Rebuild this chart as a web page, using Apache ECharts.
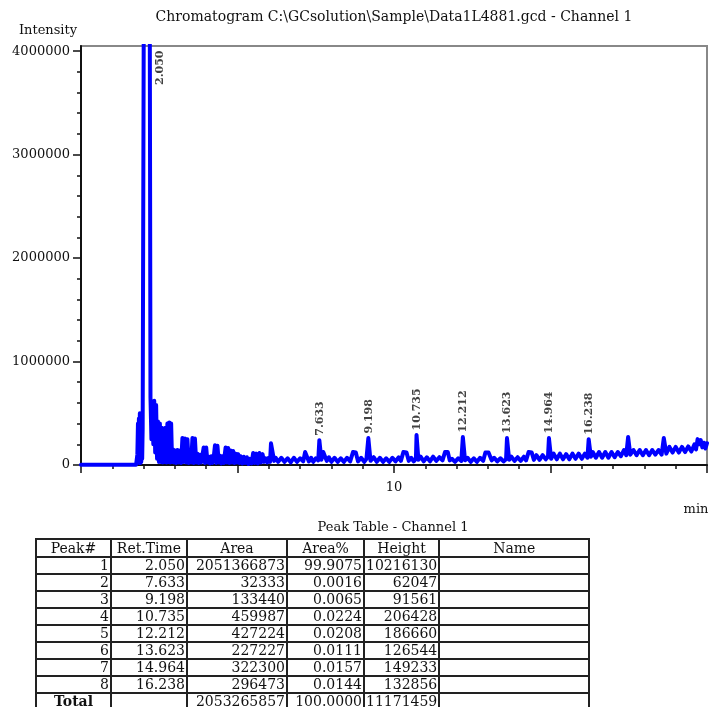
<!DOCTYPE html>
<html>
<head>
<meta charset="utf-8">
<script src="https://cdn.jsdelivr.net/npm/echarts@6/dist/echarts.min.js"></script>
<style>
html,body{margin:0;padding:0;background:#fff;}
#chart{position:absolute;left:0;top:0;width:709px;height:707px;}
#tbl{position:absolute;left:35px;top:538px;border-collapse:collapse;table-layout:fixed;font-family:'DejaVu Serif';font-size:14px;color:#111;border:2px solid #333;}
#tbl td,#tbl th{border:2px solid #222;height:15px;line-height:15px;padding:0 1px;text-align:right;white-space:nowrap;overflow:hidden;font-weight:normal;}
#tbl th{text-align:center;height:16px;line-height:16px;}
#tbl td.tot{text-align:center;font-weight:bold;}
</style>
</head>
<body>
<div id="chart"></div>
<table id="tbl"></table>
<script>
// ---- axis ticks / labels ----
const xLabelValues = [10];
const yTickValues = [0, 1000000, 2000000, 3000000, 4000000];
const yMinorTickValues = [200000, 400000, 600000, 800000, 1200000, 1400000, 1600000, 1800000,
  2200000, 2400000, 2600000, 2800000, 3200000, 3400000, 3600000, 3800000];

// ---- chromatogram trace: [time (min), intensity (thousands)] ----
const traceK = [
  [0, 3], [1.0, 3], [1.76, 3], [1.80, 100], [1.82, 400], [1.835, 30], [1.85, 450], [1.865, 20],
  [1.88, 500], [1.895, 20], [1.91, 490], [1.925, 30], [1.94, 470], [1.955, 60], [1.97, 350],
  [2.02, 6000], [2.05, 10216], [2.19, 5500], [2.22, 650],
  [2.25, 250], [2.28, 600], [2.31, 200], [2.34, 620], [2.37, 120], [2.40, 580], [2.43, 60],
  [2.46, 420], [2.49, 30], [2.52, 400], [2.55, 30], [2.58, 360], [2.61, 25], [2.64, 350],
  [2.67, 30], [2.70, 360], [2.73, 25], [2.76, 400], [2.79, 30], [2.82, 410], [2.85, 25],
  [2.88, 400], [2.91, 30], [2.94, 150], [2.97, 25], [3.00, 140], [3.04, 20], [3.08, 145],
  [3.12, 25], [3.16, 140], [3.20, 20], [3.24, 260], [3.28, 30], [3.32, 255], [3.36, 25],
  [3.40, 250], [3.44, 20], [3.48, 140], [3.52, 25], [3.56, 260], [3.60, 20], [3.64, 255],
  [3.68, 25], [3.72, 110], [3.76, 20], [3.80, 100], [3.84, 25], [3.88, 95], [3.92, 170],
  [3.96, 20], [4.00, 170], [4.04, 25], [4.08, 80], [4.12, 15], [4.16, 85], [4.20, 20],
  [4.24, 75], [4.28, 190], [4.32, 20], [4.36, 185], [4.40, 25], [4.44, 90], [4.48, 15],
  [4.52, 85], [4.56, 20], [4.62, 170], [4.66, 25], [4.70, 165], [4.74, 20], [4.78, 140],
  [4.82, 25], [4.86, 135], [4.90, 20], [4.94, 110], [4.98, 25], [5.02, 105], [5.06, 20],
  [5.10, 85], [5.15, 15], [5.20, 80], [5.25, 20], [5.30, 75], [5.35, 10], [5.40, 60],
  [5.45, 15], [5.50, 115], [5.55, 20], [5.60, 110], [5.65, 15], [5.70, 115], [5.75, 25],
  [5.80, 105], [5.85, 30], [5.90, 65], [5.95, 25], [6.00, 70], [6.04, 30], [6.07, 210],
  [6.13, 210], [6.17, 40], [6.22, 70],
  [6.3, 30], [6.4, 70], [6.5, 30], [6.6, 65], [6.7, 25], [6.8, 70], [6.9, 30], [7.0, 65],
  [7.1, 35], [7.16, 125], [7.22, 120], [7.28, 35], [7.35, 70], [7.42, 30], [7.50, 65],
  [7.58, 45], [7.615, 240], [7.645, 240], [7.68, 50], [7.74, 125], [7.80, 120], [7.85, 40],
  [7.92, 75], [8.0, 30], [8.1, 70], [8.2, 30], [8.3, 65], [8.4, 30], [8.5, 70], [8.6, 35],
  [8.69, 125], [8.78, 120], [8.85, 35], [8.95, 70], [9.05, 30], [9.12, 60], [9.16, 45],
  [9.18, 260], [9.21, 260], [9.25, 40], [9.35, 75], [9.45, 30], [9.55, 70], [9.65, 30],
  [9.75, 65], [9.85, 30], [9.95, 70], [10.05, 35], [10.15, 75], [10.22, 40], [10.30, 125],
  [10.40, 120], [10.47, 40], [10.55, 70], [10.63, 35], [10.70, 60], [10.72, 290], [10.75, 290],
  [10.78, 50], [10.85, 80], [10.95, 35], [11.05, 75], [11.15, 35], [11.25, 80], [11.35, 40],
  [11.45, 75], [11.55, 45], [11.63, 125], [11.72, 125], [11.78, 45], [11.85, 60], [11.95, 30],
  [12.05, 65], [12.15, 40], [12.20, 270], [12.23, 270], [12.27, 45], [12.35, 70], [12.45, 30],
  [12.55, 65], [12.65, 30], [12.75, 70], [12.85, 40], [12.92, 120], [13.02, 120], [13.12, 45],
  [13.2, 70], [13.3, 35], [13.4, 65], [13.5, 35], [13.58, 55], [13.61, 260], [13.64, 260],
  [13.68, 50], [13.75, 80], [13.85, 40], [13.95, 75], [14.05, 40], [14.15, 80], [14.22, 45],
  [14.30, 125], [14.40, 120], [14.47, 50], [14.55, 95], [14.65, 50], [14.75, 95], [14.85, 55],
  [14.92, 80], [14.95, 260], [14.98, 260], [15.02, 60], [15.1, 110], [15.2, 55], [15.3, 110],
  [15.4, 55], [15.5, 105], [15.6, 55], [15.7, 110], [15.8, 60], [15.9, 110], [16.0, 60],
  [16.1, 110], [16.18, 70], [16.22, 250], [16.25, 250], [16.29, 80], [16.35, 125], [16.45, 70],
  [16.55, 125], [16.65, 70], [16.75, 125], [16.85, 70], [16.95, 125], [17.05, 75], [17.15, 125],
  [17.25, 85], [17.35, 145], [17.42, 95], [17.48, 270], [17.51, 270], [17.55, 100], [17.65, 145],
  [17.75, 95], [17.85, 145], [17.95, 95], [18.05, 145], [18.15, 95], [18.25, 145], [18.35, 100],
  [18.45, 145], [18.55, 100], [18.62, 260], [18.65, 260], [18.70, 110], [18.8, 175], [18.9, 120],
  [19.0, 175], [19.1, 120], [19.2, 175], [19.3, 125], [19.4, 180], [19.5, 130], [19.6, 200],
  [19.65, 150], [19.7, 250], [19.75, 200], [19.8, 240], [19.85, 170], [19.9, 215], [19.95, 160],
  [20.0, 210]
];

// ---- labelled peaks ----
const peakTimes = [2.050, 7.633, 9.198, 10.735, 12.212, 13.623, 14.964, 16.238];
const peakApexK = [10216, 240, 260, 290, 270, 260, 260, 250];

// ---- peak table ----
const tableHeader = ['Peak#', 'Ret.Time', 'Area', 'Area%', 'Height', 'Name'];
const peakNo = [1, 2, 3, 4, 5, 6, 7, 8];
const retTimes = ['2.050', '7.633', '9.198', '10.735', '12.212', '13.623', '14.964', '16.238'];
const areas = ['2051366873', '32333', '133440', '459987', '427224', '227227', '322300', '296473'];
const areaPct = ['99.9075', '0.0016', '0.0065', '0.0224', '0.0208', '0.0111', '0.0157', '0.0144'];
const heights = ['10216130', '62047', '91561', '206428', '186660', '126544', '149233', '132856'];
const totals = ['Total', '', '2053265857', '100.0000', '11171459', ''];
const colWidths = [75, 76, 100, 77, 75, 150];

const Y_MAX = 4050000;
const FONT = 'DejaVu Serif';

// build table
(function () {
  const t = document.getElementById('tbl');
  let h = '<colgroup>' + colWidths.map(w => '<col style="width:' + w + 'px">').join('') + '</colgroup>';
  h += '<tr>' + tableHeader.map(s => '<th>' + s + '</th>').join('') + '</tr>';
  for (let i = 0; i < peakNo.length; i++) {
    h += '<tr><td>' + peakNo[i] + '</td><td>' + retTimes[i] + '</td><td>' + areas[i] + '</td><td>' +
      areaPct[i] + '</td><td>' + heights[i] + '</td><td></td></tr>';
  }
  h += '<tr>' + totals.map((s, j) => '<td' + (j === 0 ? ' class="tot"' : '') + '>' + s + '</td>').join('') + '</tr>';
  t.innerHTML = h;
})();

const chart = echarts.init(document.getElementById('chart'), null, { renderer: 'canvas' });

const labelData = peakTimes.map((t, i) => {
  const v = peakApexK[i] * 1000;
  const clipped = v > Y_MAX;
  const item = { value: [t, clipped ? Y_MAX : v] };
  if (clipped) {
    item.label = { position: 'bottom', distance: 4, align: 'right', verticalAlign: 'middle', offset: [0, 15] };
  }
  return item;
});

chart.setOption({
  animation: false,
  backgroundColor: '#fff',
  grid: { left: 81, top: 46, width: 626, height: 419, show: true, borderColor: '#888', borderWidth: 2 },
  xAxis: {
    type: 'value', min: 0, max: 20, interval: 5,
    axisLine: { show: true, onZero: false, lineStyle: { color: '#111', width: 2 } },
    axisTick: { show: true, length: 8, lineStyle: { color: '#111', width: 1.5 } },
    minorTick: { show: true, splitNumber: 5, length: 4, lineStyle: { color: '#111', width: 1.5 } },
    axisLabel: { customValues: xLabelValues, margin: 16, fontFamily: FONT, fontSize: 13, color: '#111' },
    splitLine: { show: false }, minorSplitLine: { show: false }
  },
  yAxis: [{
    type: 'value', min: 0, max: Y_MAX, position: 'left', offset: 0,
    axisLine: { show: true, onZero: false, lineStyle: { color: '#111', width: 2 } },
    axisTick: { show: true, customValues: yTickValues, length: 8, lineStyle: { color: '#111', width: 1.5 } },
    axisLabel: { customValues: yTickValues, margin: 11, fontFamily: FONT, fontSize: 13, color: '#111',
      formatter: v => String(v) },
    splitLine: { show: false }
  }, {
    type: 'value', min: 0, max: Y_MAX, position: 'left', offset: 0,
    axisLine: { show: false },
    axisTick: { show: true, customValues: yMinorTickValues, length: 4, lineStyle: { color: '#111', width: 1.5 } },
    axisLabel: { show: false },
    splitLine: { show: false }
  }],
  graphic: [
    { type: 'text', x: 394, y: 17, style: { text: 'Chromatogram C:\\GCsolution\\Sample\\Data1L4881.gcd - Channel 1',
      font: '14px "' + FONT + '"', fill: '#111', align: 'center', verticalAlign: 'middle' } },
    { type: 'text', x: 48, y: 31, style: { text: 'Intensity', font: '13px "' + FONT + '"', fill: '#111', align: 'center', verticalAlign: 'middle' } },
    { type: 'text', x: 696, y: 510, style: { text: 'min', font: '13px "' + FONT + '"', fill: '#111', align: 'center', verticalAlign: 'middle' } },
    { type: 'text', x: 393, y: 528, style: { text: 'Peak Table - Channel 1', font: '13px "' + FONT + '"', fill: '#111', align: 'center', verticalAlign: 'middle' } }
  ],
  series: [{
    type: 'line',
    data: traceK.map(p => [p[0], p[1] * 1000]),
    showSymbol: false, symbol: 'none', clip: true,
    lineStyle: { color: '#0000ff', width: 4, join: 'round', cap: 'round' },
    z: 3
  }, {
    type: 'scatter',
    data: labelData,
    symbolSize: 1,
    itemStyle: { color: 'rgba(0,0,0,0)' },
    label: {
      show: true, position: 'top', distance: 4, rotate: 90, align: 'left', verticalAlign: 'middle',
      fontFamily: FONT, fontSize: 11, fontWeight: 'bold', color: '#111',
      formatter: p => peakTimes[p.dataIndex].toFixed(3)
    },
    silent: true, z: 4
  }]
});
</script>
</body>
</html>
